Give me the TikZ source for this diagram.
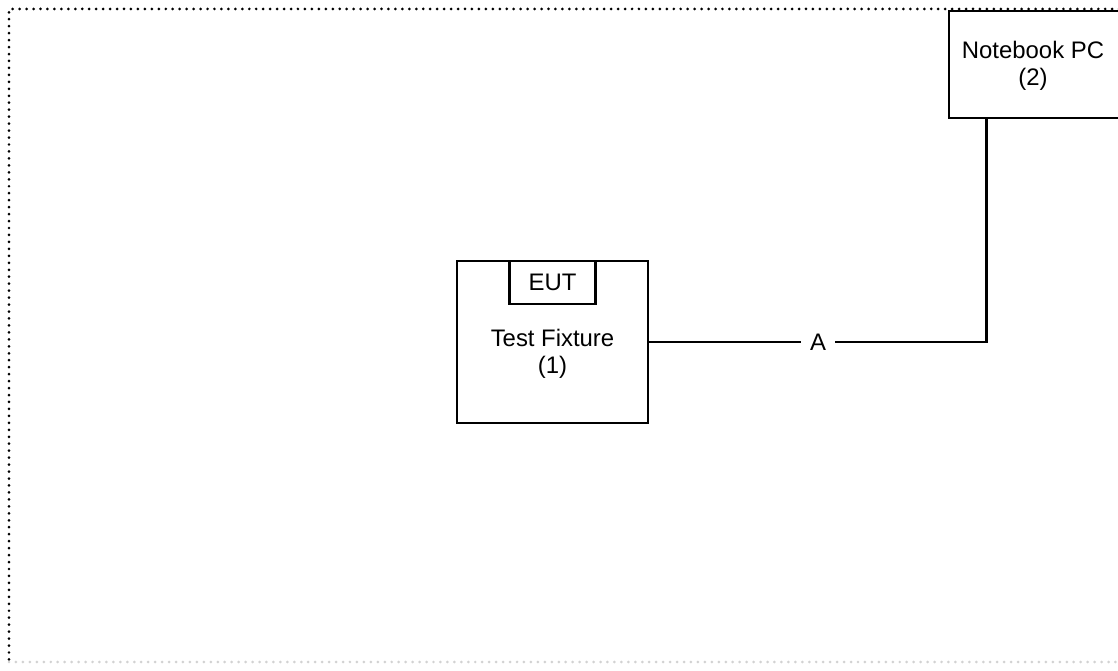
\documentclass[tikz,border=0pt]{standalone}
\usepackage{fontspec}
\setmainfont{Liberation Sans}
\usetikzlibrary{positioning}
\tikzset{
    unit/.style={draw, line width=0.75pt, inner sep=0pt, align=center},
    lbl/.style={inner sep=0pt, align=center, font=\fontsize{6.8}{7.6}\selectfont},
    cable/.style={line width=0.75pt},
    frame/.style={line width=0.85pt, dash pattern=on 0pt off 1.98pt, line cap=round},
}

\begin{document}
\begin{tikzpicture}
\useasboundingbox (0,0) rectangle (11.18,-6.71);
\clip (0,0) rectangle (11.18,-6.71);

% dotted border of the test area
\draw[frame] (11.4,-0.09) -- (0.09,-0.09) -- (0.09,-6.62);
\draw[frame, gray!35] (0.09,-6.62) -- (11.4,-6.62);

% test fixture with EUT
\node[unit, minimum width=1.91cm, minimum height=1.62cm] (fixture) at (5.525,-3.42) {};
\node[unit, anchor=north, minimum width=0.86cm, minimum height=0.43cm, font=\fontsize{6.8}{7.6}\selectfont] (eut) at (fixture.north) {EUT};
\node[lbl] (fixturetext) at (5.525,-3.535) {Test Fixture\\(1)};

% notebook
\node[unit, minimum width=1.70cm, minimum height=1.07cm] (notebook) at (10.34,-0.645) {};
\node[lbl] (notebooktext) at (10.33,-0.66) {Notebook PC\\(2)};
\coordinate (port) at ([xshift=0.39cm]notebook.south west);

% cable A
\draw[cable] (fixture.east) -- node[lbl, fill=white, inner xsep=0.09cm, inner ysep=0.05cm] (cablea) {A} (port |- fixture.east) -- (port);
\end{tikzpicture}
\end{document}
